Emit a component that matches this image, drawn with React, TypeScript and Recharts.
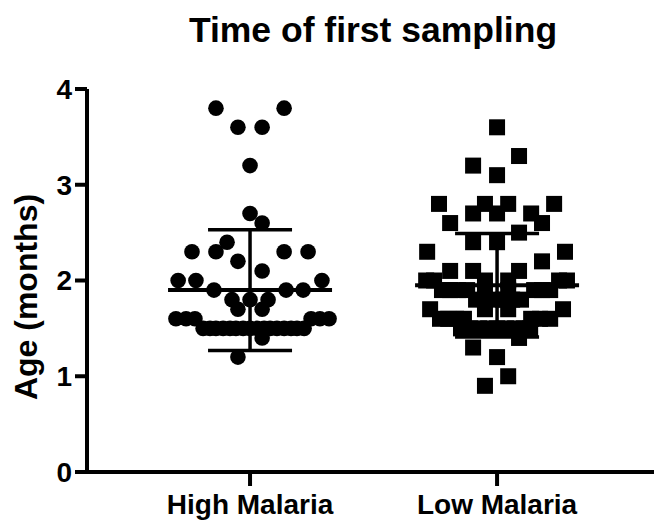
import { ScatterChart, Scatter, XAxis, YAxis, ErrorBar } from "recharts";

const FONT = '"Liberation Sans", Arial, Helvetica, sans-serif';
const INK = "#000000";

// categories sit at x = 1 and x = 2 on a numeric axis so the dots can be jittered
const groups = ["High Malaria", "Low Malaria"];
const groupPositions = [1, 2];
const yTicks = [0, 1, 2, 3, 4];

// High Malaria (circles), row by row from the top
const highX = [
  0.862, 1.138,
  0.951, 1.049,
  1.0,
  1.0,
  1.049,
  0.907,
  0.765, 0.862, 1.138, 1.235,
  0.951,
  1.049,
  0.709, 0.781, 1.291,
  0.854, 1.146, 1.215,
  0.927, 1.0, 1.073,
  0.951, 1.049,
  0.7, 0.741, 0.777, 1.247, 1.283, 1.32,
  0.81, 0.838, 0.862, 0.891, 0.919, 0.943, 0.972, 1.0, 1.028, 1.057, 1.081, 1.109, 1.138, 1.166, 1.19, 1.219,
  1.049,
  0.951,
];
const highY = [
  3.8, 3.8,
  3.6, 3.6,
  3.2,
  2.7,
  2.6,
  2.4,
  2.3, 2.3, 2.3, 2.3,
  2.2,
  2.1,
  2.0, 2.0, 2.0,
  1.9, 1.9, 1.9,
  1.8, 1.8, 1.8,
  1.7, 1.7,
  1.6, 1.6, 1.6, 1.6, 1.6, 1.6,
  1.5, 1.5, 1.5, 1.5, 1.5, 1.5, 1.5, 1.5, 1.5, 1.5, 1.5, 1.5, 1.5, 1.5, 1.5, 1.5,
  1.4,
  1.2,
];

// Low Malaria (squares)
const lowX = [
  2.0,
  2.089,
  1.903,
  2.0,
  1.765, 1.951, 2.045, 2.231,
  1.903, 2.0, 2.138,
  1.81, 2.182,
  2.089,
  1.903, 2.0,
  1.717, 2.275,
  2.182,
  1.81, 1.903, 2.089,
  1.713, 1.745, 1.951, 2.045, 2.251, 2.283,
  1.777, 1.81, 1.842, 1.879, 1.951, 2.045, 2.15, 2.182, 2.215,
  1.915, 1.951, 1.988, 2.024, 2.061, 2.097,
  1.729, 1.951, 2.045, 2.267,
  1.769, 1.802, 1.834, 1.866, 2.138, 2.174, 2.215,
  1.854, 1.891, 1.927, 1.964, 2.0, 2.036, 2.073, 2.109, 2.134,
  2.089,
  1.903,
  2.0,
  2.045,
  1.951,
];
const lowY = [
  3.6,
  3.3,
  3.2,
  3.1,
  2.8, 2.8, 2.8, 2.8,
  2.7, 2.7, 2.7,
  2.6, 2.6,
  2.5,
  2.4, 2.4,
  2.3, 2.3,
  2.2,
  2.1, 2.1, 2.1,
  2.0, 2.0, 2.0, 2.0, 2.0, 2.0,
  1.9, 1.9, 1.9, 1.9, 1.9, 1.9, 1.9, 1.9, 1.9,
  1.8, 1.8, 1.8, 1.8, 1.8, 1.8,
  1.7, 1.7, 1.7, 1.7,
  1.6, 1.6, 1.6, 1.6, 1.6, 1.6, 1.6,
  1.5, 1.5, 1.5, 1.5, 1.5, 1.5, 1.5, 1.5, 1.5,
  1.4,
  1.3,
  1.2,
  1.0,
  0.9,
];

// mean ± SD
const groupMeans = [1.9, 1.95];
const groupSDs = [0.63, 0.54];

const highPoints = highX.map((x, i) => ({ x, y: highY[i] }));
const lowPoints = lowX.map((x, i) => ({ x, y: lowY[i] }));
const summary = groupPositions.map((x, i) => ({ x, y: groupMeans[i], sd: groupSDs[i] }));

const Dot = (p: any) => <circle cx={p.cx} cy={p.cy} r={7.8} fill={INK} />;
const Square = (p: any) => <rect x={p.cx - 8} y={p.cy - 8} width={16} height={16} fill={INK} />;
const MeanLine = (p: any) => (
  <line x1={p.cx - 82} x2={p.cx + 82} y1={p.cy} y2={p.cy} stroke={INK} strokeWidth={4} />
);

const tickStyle = { fill: INK, fontSize: 28, fontWeight: "bold", fontFamily: FONT };
const axisStroke = { stroke: INK, strokeWidth: 4 };

export default function App() {
  return (
    <div style={{ position: "absolute", left: 0, top: 0, width: 654, height: 529, background: "#fff", overflow: "hidden" }}>
      {/* x axis runs off the right edge, as in the original figure */}
      <ScatterChart width={654} height={529} margin={{ top: 89, right: -14, bottom: 7, left: 27 }}>
        <XAxis
          type="number"
          dataKey="x"
          domain={[0.34, 2.692]}
          ticks={groupPositions}
          tickFormatter={(v: number) => groups[v - 1] ?? ""}
          allowDataOverflow
          height={50}
          tickSize={14}
          tickMargin={8}
          axisLine={axisStroke}
          tickLine={axisStroke}
          tick={tickStyle}
        />
        <YAxis
          type="number"
          dataKey="y"
          domain={[0, 4]}
          ticks={yTicks}
          allowDataOverflow
          width={60}
          tickSize={12}
          tickMargin={3}
          axisLine={axisStroke}
          tickLine={axisStroke}
          tick={tickStyle}
          label={{
            content: () => (
              <text
                x={37}
                y={297}
                transform="rotate(-90 37 297)"
                textAnchor="middle"
                fill={INK}
                fontSize={32}
                fontWeight="bold"
                fontFamily={FONT}
              >
                Age (months)
              </text>
            ),
          }}
        />
        <Scatter data={highPoints} shape={Dot} isAnimationActive={false} />
        <Scatter data={lowPoints} shape={Square} isAnimationActive={false} />
        <Scatter data={summary} shape={MeanLine} isAnimationActive={false}>
          <ErrorBar dataKey="sd" direction="y" width={42} stroke={INK} strokeWidth={3.5} />
        </Scatter>
      </ScatterChart>
      <svg
        width={654}
        height={60}
        style={{ position: "absolute", left: 0, top: 0, pointerEvents: "none" }}
      >
        <text x={373} y={42} textAnchor="middle" fill={INK} fontSize={35.5} fontWeight="bold" fontFamily={FONT}>
          Time of first sampling
        </text>
      </svg>
    </div>
  );
}
